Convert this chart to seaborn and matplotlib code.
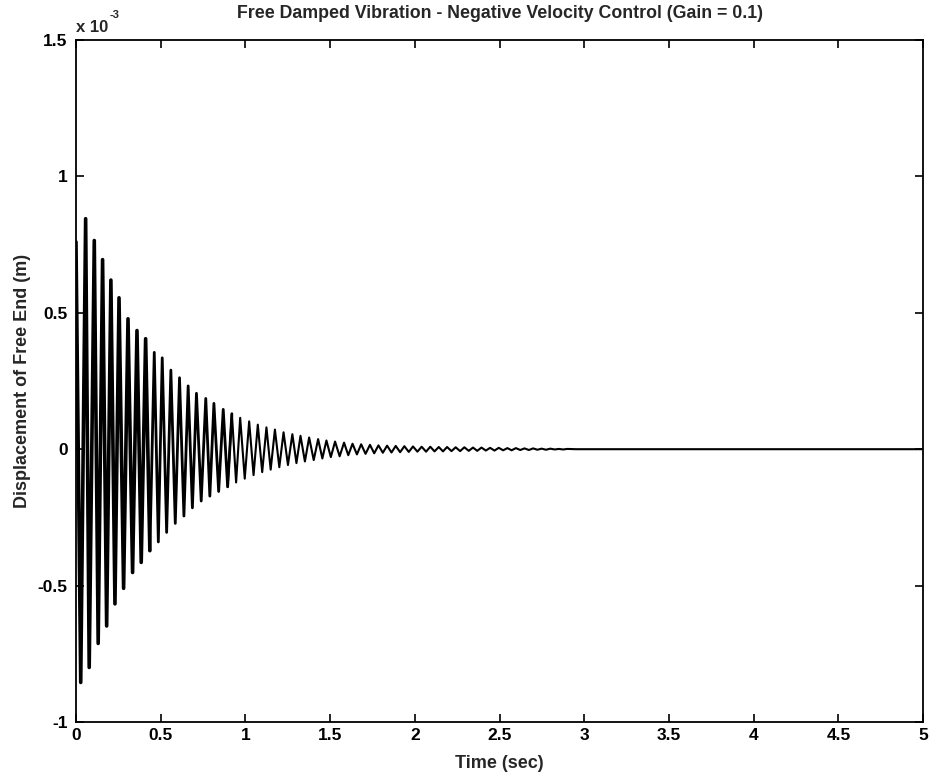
import numpy as np
import pandas as pd
import matplotlib
matplotlib.use("Agg")
import matplotlib.pyplot as plt
import seaborn as sns

# Free-end displacement (units of 1e-3 m): successive maxima and minima of the decaying response
start_time = [0.0]
start_value = [0.76]

peak_times = [0.057, 0.108, 0.157, 0.206, 0.254, 0.307, 0.360, 0.411, 0.462, 0.509,
              0.560, 0.611, 0.662, 0.711, 0.766, 0.814, 0.869, 0.920, 0.969, 1.022,
              1.073, 1.124, 1.174, 1.225, 1.277, 1.325, 1.376, 1.429, 1.478, 1.529,
              1.582, 1.632, 1.683, 1.735, 1.785, 1.836, 1.887, 1.938, 1.989, 2.040,
              2.091, 2.141, 2.190, 2.241, 2.292, 2.343, 2.393, 2.444, 2.495, 2.546,
              2.596, 2.647, 2.698, 2.748, 2.799, 2.850, 2.900]
peak_values = [0.845, 0.765, 0.695, 0.620, 0.555, 0.478, 0.435, 0.405, 0.355, 0.335,
               0.290, 0.262, 0.232, 0.205, 0.186, 0.168, 0.146, 0.130, 0.115, 0.102,
               0.090, 0.080, 0.072, 0.062, 0.055, 0.049, 0.043, 0.037, 0.032, 0.028,
               0.024, 0.020, 0.018, 0.016, 0.014, 0.013, 0.012, 0.011, 0.010, 0.009,
               0.009, 0.008, 0.008, 0.007, 0.007, 0.006, 0.006, 0.005, 0.005, 0.004,
               0.004, 0.003, 0.003, 0.002, 0.002, 0.001, 0.001]

trough_times = [0.028, 0.078, 0.131, 0.181, 0.230, 0.281, 0.334, 0.385, 0.436, 0.486,
                0.535, 0.586, 0.637, 0.687, 0.739, 0.790, 0.842, 0.895, 0.945, 0.996,
                1.048, 1.099, 1.149, 1.200, 1.251, 1.301, 1.351, 1.403, 1.454, 1.504,
                1.556, 1.607, 1.658, 1.709, 1.760, 1.811, 1.862, 1.913, 1.964, 2.015,
                2.066, 2.116, 2.166, 2.216, 2.267, 2.318, 2.368, 2.419, 2.470, 2.521,
                2.571, 2.622, 2.673, 2.723, 2.774, 2.825, 2.875]
trough_values = [-0.855, -0.800, -0.712, -0.648, -0.567, -0.510, -0.452, -0.415, -0.372, -0.340,
                 -0.305, -0.272, -0.245, -0.215, -0.190, -0.172, -0.155, -0.138, -0.122, -0.108,
                 -0.095, -0.084, -0.075, -0.066, -0.058, -0.051, -0.045, -0.040, -0.034, -0.029,
                 -0.026, -0.022, -0.019, -0.017, -0.015, -0.013, -0.012, -0.011, -0.010, -0.009,
                 -0.009, -0.008, -0.008, -0.007, -0.007, -0.006, -0.006, -0.005, -0.005, -0.004,
                 -0.004, -0.003, -0.003, -0.002, -0.002, -0.001, -0.001]

# settled state after the oscillation has died out
rest_times = [2.95, 5.0]
rest_values = [0.0, 0.0]

x_ticks = [0, 0.5, 1, 1.5, 2, 2.5, 3, 3.5, 4, 4.5, 5]
x_tick_labels = ["0", "0.5", "1", "1.5", "2", "2.5", "3", "3.5", "4", "4.5", "5"]
y_ticks = [-1, -0.5, 0, 0.5, 1, 1.5]
y_tick_labels = ["-1", "-0.5", "0", "0.5", "1", "1.5"]

# interleave minima and maxima into a single time history
times, values = list(start_time), list(start_value)
for tt, tv, pt, pv in zip(trough_times, trough_values, peak_times, peak_values):
    times += [tt, pt]
    values += [tv, pv]
times += rest_times
values += rest_values
df = pd.DataFrame({"Time (sec)": times, "Displacement": values})

sns.set_style("ticks")
plt.rcParams["font.family"] = ["Liberation Sans", "DejaVu Sans"]
plt.rcParams["font.weight"] = "bold"

fig = plt.figure(figsize=(9.3, 7.77), dpi=100)
ax = fig.add_axes([0.0817, 0.0708, 0.9110, 0.8777])

# the early, strongly excited part of the record is traced with a heavier pen
stroke_spans = [(0.0, 0.46, 2.6), (0.46, 0.92, 2.0), (0.92, 5.0, 1.5)]
for lo, hi, lw in stroke_spans:
    part = df[(df["Time (sec)"] >= lo) & (df["Time (sec)"] <= hi)]
    prev = df[df["Time (sec)"] < lo].tail(1)
    part = pd.concat([prev, part])
    sns.lineplot(data=part, x="Time (sec)", y="Displacement", sort=False, estimator=None,
                 color="black", linewidth=lw, ax=ax)

ax.set_xlim(0, 5)
ax.set_ylim(-1, 1.5)
ax.set_xticks(x_ticks)
ax.set_xticklabels(x_tick_labels)
ax.set_yticks(y_ticks)
ax.set_yticklabels(y_tick_labels)

for side in ["left", "right", "top", "bottom"]:
    ax.spines[side].set_visible(True)
    ax.spines[side].set_linewidth(1.3)
    ax.spines[side].set_color("black")
ax.tick_params(direction="in", length=6, width=1.2, top=True, right=True,
               labelsize=12.5, colors="black")
ax.tick_params(axis="x", pad=4)
ax.tick_params(axis="y", pad=6)
for lab in ax.get_xticklabels() + ax.get_yticklabels():
    lab.set_fontweight("bold")

ax.set_xlabel("Time (sec)", fontsize=13, fontweight="bold", labelpad=9)
ax.set_ylabel("Displacement of Free End (m)", fontsize=13, fontweight="bold", labelpad=5)
ax.set_title("Free Damped Vibration - Negative Velocity Control (Gain = 0.1)",
             fontsize=12.8, fontweight="bold", pad=16)
ax.text(0.0, 1.008, "x 10", transform=ax.transAxes, fontsize=12,
        fontweight="bold", ha="left", va="bottom")
ax.text(0.040, 1.030, "-3", transform=ax.transAxes, fontsize=8,
        fontweight="bold", ha="left", va="bottom")

fig.savefig("out.png", dpi=100, facecolor="white")
